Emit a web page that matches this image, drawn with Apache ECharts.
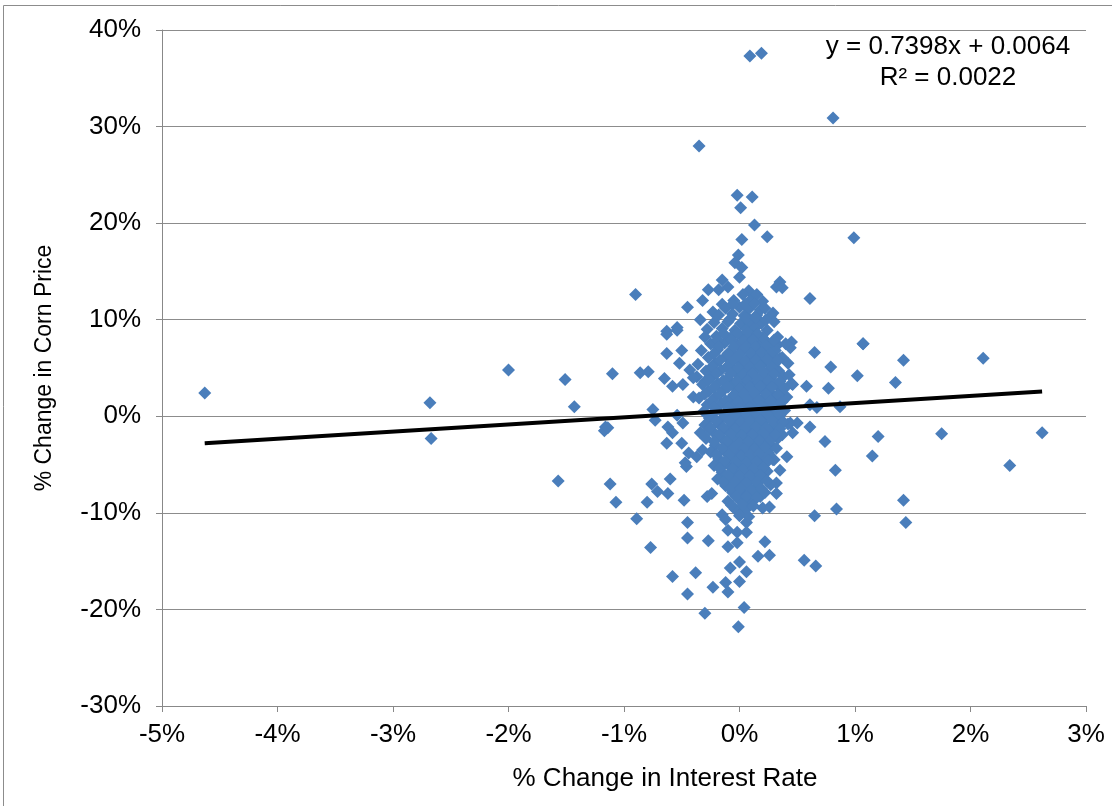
<!DOCTYPE html>
<html>
<head>
<meta charset="utf-8">
<script src="https://cdn.jsdelivr.net/npm/echarts@6/dist/echarts.min.js"></script>
<style>
html,body{margin:0;padding:0;background:#fff;}
#chart{width:1112px;height:806px;}
</style>
</head>
<body>
<div id="chart"></div>
<script>
// Axis ticks (percent)
const xTicks = [-5, -4, -3, -2, -1, 0, 1, 2, 3];
const yTicks = [-30, -20, -10, 0, 10, 20, 30, 40];

// Trendline (from chart label): y = 0.7398x + 0.0064, R² = 0.0022
const trendSlope = 0.7398;
const trendIntercept = 0.0064;
const trendLabel = ["y = 0.7398x + 0.0064", "R² = 0.0022"];

// Outlying / clearly readable points: [% change interest rate, % change corn price]
const outerPoints = [
  [-4.63, 2.4], [-2.68, 1.4], [-2.67, -2.3], [-2.0, 4.8], [-1.51, 3.8], [-1.43, 1.0],
  [-1.57, -6.7], [-1.16, -1.1], [-1.17, -1.5], [-1.12, -7.0], [-1.07, -8.9],
  [-0.90, 12.6], [-0.89, -10.6], [-1.1, 4.4], [-0.77, -13.6], [-0.58, -16.6],
  [-0.45, -18.4], [-0.30, -20.4], [-0.01, -21.8], [0.04, -19.8],
  [-0.35, 28.0], [0.09, 37.3], [0.19, 37.6], [0.81, 30.9],
  [-0.02, 22.9], [0.11, 22.7], [0.01, 21.6], [0.13, 19.8], [0.24, 18.6], [0.99, 18.5],
  [0.02, 18.3], [0.61, 12.2], [1.07, 7.5], [1.35, 3.5], [1.42, 5.8], [2.11, 6.0],
  [2.62, -1.7], [2.34, -5.1], [1.75, -1.8], [1.20, -2.1], [1.15, -4.1], [1.42, -8.7],
  [1.44, -11.0], [0.83, -5.6], [0.84, -9.6], [0.65, -10.3], [0.66, -15.5], [0.56, -14.9],
  [1.02, 4.2], [0.77, 2.9], [0.79, 5.1], [0.65, 6.6], [0.74, -2.6], [0.87, 1.0],
  [-0.76, -7.0], [-0.71, -7.8], [-0.60, -6.5], [-0.62, -8.0], [-0.80, -8.9], [-0.48, -8.7],
  [-0.46, -5.2], [-0.45, -11.0], [-0.45, -12.6], [-0.27, -12.9], [-0.28, -8.3], [-0.24, -8.0],
  [-0.15, -10.2], [-0.12, -10.7], [-0.10, -11.8], [-0.02, -12.0], [-0.10, -13.5], [-0.02, -13.1],
  [-0.38, -16.2], [-0.23, -17.7], [-0.12, -17.2], [-0.10, -18.2], [0.0, -17.1],
  [-0.08, -15.7], [0.0, -15.1], [0.22, -13.0], [0.26, -14.4], [0.16, -14.5], [0.06, -16.1],
  [0.06, -11.0], [0.06, -12.0], [0.18, -8.3], [0.20, -9.5], [0.26, -9.4], [0.32, -8.0],
  [0.32, -6.9], [0.35, -5.6], [0.06, -8.7], [0.02, -9.9],
  [-0.01, 16.7], [-0.04, 15.9], [0.02, 15.4], [0.0, 14.4], [-0.15, 14.1], [-0.27, 13.1],
  [-0.10, 13.4], [-0.18, 13.1], [-0.45, 11.3], [-0.32, 12.0], [-0.23, 10.8], [-0.15, 11.6],
  [-0.34, 10.0], [-0.54, 9.2], [-0.63, 8.8], [0.35, 13.9], [0.32, 13.4], [0.37, 13.3],
  [0.18, 11.0], [0.29, 10.7], [0.09, 10.0], [0.18, 9.8],
  [-0.63, 8.5], [-0.54, 8.9], [-0.63, 6.5], [-0.50, 6.8], [-0.86, 4.5], [-0.79, 4.6],
  [-0.65, 3.9], [-0.52, 5.5], [-0.58, 3.1], [-0.49, 3.3], [-0.43, 4.8], [-0.37, 4.1],
  [-0.40, 2.0], [-0.30, 3.6], [-1.14, -1.2], [-0.75, 0.7], [-0.73, -0.4], [-0.62, -1.1],
  [-0.54, 0.1], [-0.49, -0.7], [-0.58, -1.7], [-0.63, -2.8], [-0.50, -2.8], [-0.44, -3.8],
  [-0.47, -4.8], [-0.37, -4.2], [-0.32, -3.5], [-0.26, -1.4], [-0.34, -1.7],
  [1.07, 7.5], [0.45, 7.7], [0.44, 7.1], [0.33, 7.4], [0.35, 6.0], [0.46, 3.3], [0.58, 3.1],
  [0.61, 1.2], [0.67, 0.9], [0.44, -0.7], [0.50, -0.7], [0.61, -1.1], [0.37, -1.9],
  [0.46, -1.7], [0.41, -4.2], [0.29, -4.5]
];

// Dense central cluster (read as rows of the blob)
const corePoints = [
  [-0.05, 12.0], [0.10, 12.1], [0.20, 11.9],
  [-0.12, 11.2], [0.00, 11.3], [0.08, 11.1], [0.22, 11.2],
  [-0.18, 10.5], [-0.06, 10.6], [0.04, 10.4], [0.15, 10.5], [0.27, 10.4],
  [-0.22, 9.7], [-0.10, 9.8], [0.01, 9.6], [0.09, 9.7], [0.19, 9.6], [0.30, 9.8],
  [-0.28, 9.0], [-0.15, 9.1], [-0.04, 8.9], [0.06, 9.0], [0.13, 9.1], [0.24, 8.9],
  [-0.30, 8.2], [-0.20, 8.3], [-0.08, 8.1], [0.02, 8.2], [0.11, 8.3], [0.20, 8.1], [0.33, 8.2],
  [-0.25, 7.5], [-0.13, 7.6], [-0.02, 7.4], [0.07, 7.5], [0.16, 7.6], [0.26, 7.4], [0.40, 7.5],
  [-0.33, 6.8], [-0.19, 6.9], [-0.07, 6.7], [0.03, 6.8], [0.12, 6.9], [0.22, 6.7], [0.31, 6.8],
  [-0.27, 6.1], [-0.12, 6.2], [-0.01, 6.0], [0.08, 6.1], [0.18, 6.2], [0.28, 6.0], [0.37, 6.1],
  [-0.36, 5.4], [-0.21, 5.5], [-0.09, 5.3], [0.02, 5.4], [0.10, 5.5], [0.19, 5.3], [0.30, 5.4], [0.42, 5.5],
  [-0.29, 4.7], [-0.16, 4.8], [-0.04, 4.6], [0.06, 4.7], [0.14, 4.8], [0.24, 4.6], [0.34, 4.7],
  [-0.40, 4.0], [-0.24, 4.1], [-0.10, 3.9], [0.00, 4.0], [0.09, 4.1], [0.18, 3.9], [0.27, 4.0], [0.38, 4.1],
  [-0.32, 3.3], [-0.19, 3.4], [-0.06, 3.2], [0.04, 3.3], [0.13, 3.4], [0.22, 3.2], [0.32, 3.3], [0.45, 3.4],
  [-0.27, 2.6], [-0.14, 2.7], [-0.02, 2.5], [0.07, 2.6], [0.16, 2.7], [0.26, 2.5], [0.36, 2.6],
  [-0.35, 1.9], [-0.21, 2.0], [-0.08, 1.8], [0.02, 1.9], [0.11, 2.0], [0.20, 1.8], [0.30, 1.9], [0.41, 2.0],
  [-0.28, 1.2], [-0.16, 1.3], [-0.04, 1.1], [0.06, 1.2], [0.15, 1.3], [0.24, 1.1], [0.34, 1.2],
  [-0.31, 0.5], [-0.20, 0.6], [-0.09, 0.4], [0.01, 0.5], [0.10, 0.6], [0.19, 0.4], [0.29, 0.5], [0.39, 0.6],
  [-0.26, -0.2], [-0.14, -0.1], [-0.03, -0.3], [0.05, -0.2], [0.14, -0.1], [0.23, -0.3], [0.33, -0.2],
  [-0.30, -0.9], [-0.18, -0.8], [-0.07, -1.0], [0.02, -0.9], [0.11, -0.8], [0.20, -1.0], [0.30, -0.9], [0.42, -0.8],
  [-0.23, -1.6], [-0.11, -1.5], [-0.01, -1.7], [0.08, -1.6], [0.17, -1.5], [0.27, -1.7],
  [-0.29, -2.3], [-0.16, -2.2], [-0.05, -2.4], [0.04, -2.3], [0.13, -2.2], [0.22, -2.4], [0.33, -2.3],
  [-0.21, -3.0], [-0.09, -2.9], [0.00, -3.1], [0.09, -3.0], [0.18, -2.9], [0.28, -3.1],
  [-0.25, -3.7], [-0.13, -3.6], [-0.03, -3.8], [0.06, -3.7], [0.15, -3.6], [0.25, -3.8],
  [-0.18, -4.4], [-0.07, -4.3], [0.02, -4.5], [0.11, -4.4], [0.20, -4.3], [0.30, -4.5],
  [-0.22, -5.1], [-0.10, -5.0], [-0.01, -5.2], [0.08, -5.1], [0.17, -5.0],
  [-0.15, -5.8], [-0.04, -5.7], [0.05, -5.9], [0.14, -5.8], [0.24, -5.7],
  [-0.19, -6.5], [-0.08, -6.4], [0.02, -6.6], [0.11, -6.5], [0.20, -6.4],
  [-0.12, -7.2], [-0.02, -7.1], [0.07, -7.3], [0.16, -7.2], [0.27, -7.1],
  [-0.06, -7.9], [0.03, -8.0], [0.12, -7.8], [0.22, -7.9],
  [-0.10, -8.8], [0.00, -8.7], [0.09, -8.9],
  [-0.04, -9.6], [0.05, -9.7]
];

// Points filling the gaps inside the blob
const fillPoints = [
  [0.08, 13.0], [0.03, 12.6], [0.15, 12.6],
  [-0.06, 11.6], [0.05, 11.6], [0.13, 11.7],
  [-0.08, 10.1], [0.06, 10.1], [0.14, 10.2], [0.23, 10.0],
  [-0.14, 8.6], [-0.02, 8.6], [0.07, 8.7], [0.16, 8.5],
  [-0.19, 7.9], [-0.07, 7.9], [0.04, 7.8], [0.12, 7.9], [0.21, 8.0], [0.30, 7.9],
  [-0.18, 7.2], [-0.05, 7.2], [0.05, 7.1], [0.14, 7.2], [0.23, 7.3],
  [-0.22, 6.5], [-0.10, 6.5], [0.00, 6.4], [0.10, 6.5], [0.19, 6.6], [0.27, 6.5],
  [-0.17, 5.8], [-0.05, 5.8], [0.05, 5.7], [0.14, 5.8], [0.24, 5.9], [0.33, 5.8],
  [-0.24, 5.1], [-0.11, 5.1], [-0.01, 5.0], [0.09, 5.1], [0.18, 5.2], [0.28, 5.1],
  [-0.20, 4.4], [-0.08, 4.4], [0.03, 4.3], [0.11, 4.4], [0.21, 4.5], [0.30, 4.4], [0.43, 4.3],
  [-0.27, 3.7], [-0.14, 3.7], [-0.02, 3.6], [0.07, 3.7], [0.16, 3.8], [0.25, 3.7], [0.35, 3.6],
  [-0.22, 3.0], [-0.10, 3.0], [0.00, 2.9], [0.09, 3.0], [0.18, 3.1], [0.28, 3.0], [0.39, 2.9],
  [-0.30, 2.3], [-0.17, 2.3], [-0.05, 2.2], [0.04, 2.3], [0.13, 2.4], [0.23, 2.3], [0.33, 2.2],
  [-0.24, 1.6], [-0.12, 1.6], [-0.01, 1.5], [0.08, 1.6], [0.17, 1.7], [0.27, 1.6], [0.37, 1.5],
  [-0.22, 0.9], [-0.10, 0.9], [0.00, 0.8], [0.09, 0.9], [0.19, 1.0], [0.29, 0.9],
  [-0.24, 0.2], [-0.13, 0.2], [-0.04, 0.1], [0.06, 0.2], [0.15, 0.3], [0.24, 0.2], [0.35, 0.1],
  [-0.20, -0.5], [-0.09, -0.5], [0.01, -0.6], [0.09, -0.5], [0.18, -0.4], [0.28, -0.5], [0.38, -0.6],
  [-0.25, -1.2], [-0.14, -1.2], [-0.04, -1.3], [0.05, -1.2], [0.14, -1.1], [0.23, -1.2], [0.35, -1.3],
  [-0.18, -1.9], [-0.07, -1.9], [0.02, -2.0], [0.11, -1.9], [0.21, -1.8], [0.31, -1.9],
  [-0.22, -2.6], [-0.11, -2.6], [0.00, -2.7], [0.08, -2.6], [0.17, -2.5], [0.26, -2.6],
  [-0.15, -3.3], [-0.05, -3.3], [0.04, -3.4], [0.13, -3.3], [0.22, -3.2], [0.32, -3.3],
  [-0.20, -4.0], [-0.09, -4.0], [0.01, -4.1], [0.09, -4.0], [0.17, -3.9], [0.26, -4.0],
  [-0.13, -4.7], [-0.03, -4.7], [0.06, -4.8], [0.15, -4.7], [0.25, -4.6],
  [-0.17, -5.4], [-0.06, -5.4], [0.03, -5.5], [0.12, -5.4], [0.21, -5.3],
  [-0.10, -6.1], [0.00, -6.1], [0.09, -6.2], [0.18, -6.1],
  [-0.14, -6.8], [-0.04, -6.8], [0.06, -6.9], [0.15, -6.8], [0.24, -6.7],
  [-0.08, -7.5], [0.01, -7.5], [0.10, -7.6], [0.19, -7.5],
  [-0.03, -8.3], [0.06, -8.3], [0.15, -8.4],
  [-0.07, -9.2], [0.03, -9.2], [0.12, -9.3],
  [0.00, -10.3], [0.08, -10.4]
];

const allPoints = outerPoints.concat(corePoints, fillPoints);
const xs = allPoints.map(p => p[0]);
const xMinData = Math.min.apply(null, xs);
const xMaxData = Math.max.apply(null, xs);
// trendline endpoints in percent units
const trendData = [xMinData, xMaxData].map(x => [x, (trendSlope * x / 100 + trendIntercept) * 100]);

const FONT = '"Liberation Sans", Arial, sans-serif';
const chart = echarts.init(document.getElementById('chart'), null, {renderer: 'canvas'});
chart.setOption({
  animation: false,
  backgroundColor: '#fff',
  grid: {left: 162, right: 26, top: 30, bottom: 100, containLabel: false},
  xAxis: {
    type: 'value', min: xTicks[0], max: xTicks[xTicks.length - 1], interval: 1,
    name: '% Change in Interest Rate', nameLocation: 'middle', nameGap: 60,
    nameTextStyle: {fontFamily: FONT, fontSize: 26, color: '#000', padding: [0, 0, 0, 82]},
    axisLine: {show: true, onZero: false, lineStyle: {color: '#888', width: 1}},
    axisTick: {show: true, inside: false, length: 6, lineStyle: {color: '#888'}},
    axisLabel: {fontFamily: FONT, fontSize: 26, color: '#000', margin: 16, formatter: '{value}%'},
    splitLine: {show: false}
  },
  yAxis: {
    type: 'value', min: yTicks[0], max: yTicks[yTicks.length - 1], interval: 10,
    name: '% Change in Corn Price', nameLocation: 'middle', nameGap: 106, nameRotate: 90,
    nameTextStyle: {fontFamily: FONT, fontSize: 23, color: '#000'},
    axisLine: {show: true, onZero: false, lineStyle: {color: '#888', width: 1}},
    axisTick: {show: true, inside: false, length: 6, lineStyle: {color: '#888'}},
    axisLabel: {fontFamily: FONT, fontSize: 26, color: '#000', margin: 21, formatter: '{value}%'},
    splitLine: {show: true, lineStyle: {color: '#8c8c8c', width: 1}}
  },
  series: [
    {
      type: 'scatter', data: allPoints, symbol: 'diamond', symbolSize: 13,
      itemStyle: {color: '#4A7EBB', opacity: 1}, z: 2
    },
    {
      type: 'line', data: trendData, symbol: 'none', showSymbol: false,
      lineStyle: {color: '#000', width: 4}, z: 3, silent: true
    }
  ],
  graphic: [
    {type: 'rect', shape: {x: 3.5, y: 5.5, width: 1200, height: 900}, style: {fill: 'none', stroke: '#8c8c8c', lineWidth: 1}, silent: true},
    {type: 'text', x: 948, y: 47, style: {text: trendLabel[0], font: '26px ' + FONT, fill: '#000', textAlign: 'center', textVerticalAlign: 'middle'}},
    {type: 'text', x: 948, y: 78, style: {text: trendLabel[1], font: '26px ' + FONT, fill: '#000', textAlign: 'center', textVerticalAlign: 'middle'}}
  ]
});
</script>
</body>
</html>
